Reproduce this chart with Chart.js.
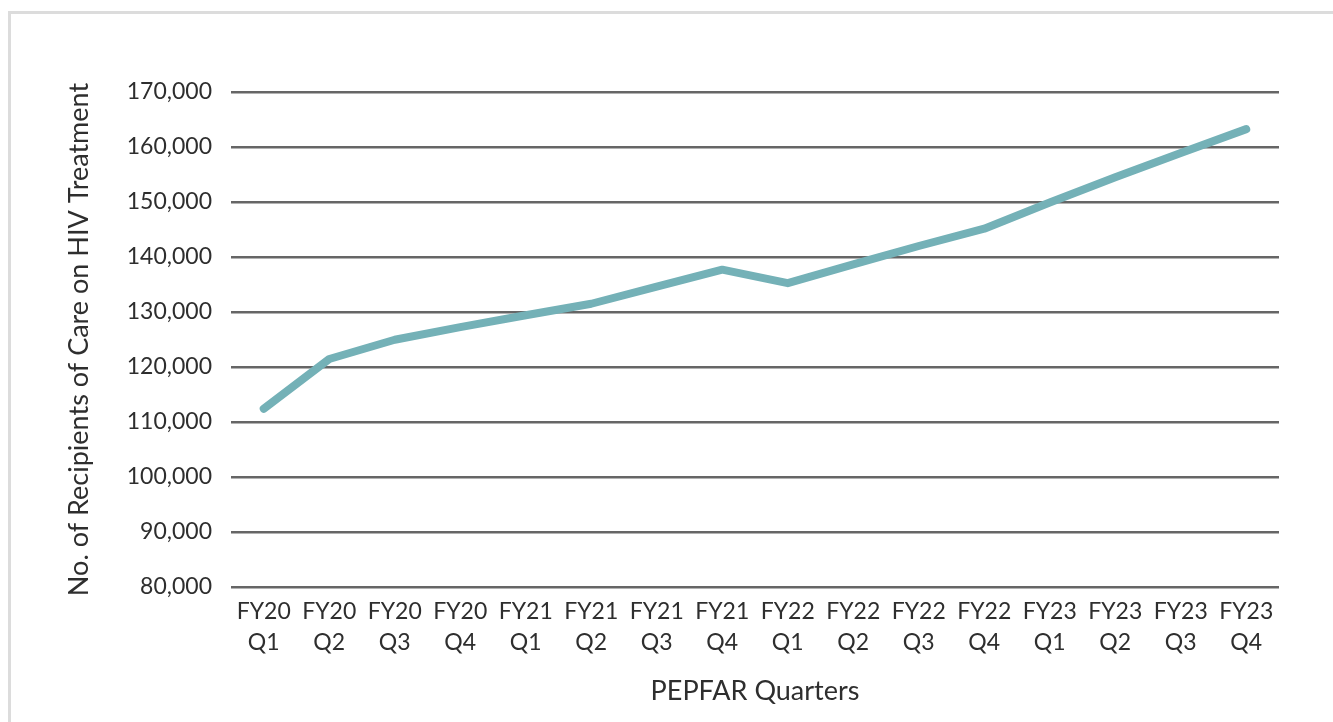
<!DOCTYPE html>
<html>
<head>
<meta charset="utf-8">
<script src="https://cdn.jsdelivr.net/npm/chart.js@4/dist/chart.umd.min.js"></script>
<style>
  html, body { margin: 0; padding: 0; background: #fff; overflow: hidden; }
  #frame {
    position: absolute; left: 8px; top: 11px; width: 1400px; height: 800px;
    border: 3px solid #dcdcdc; box-sizing: border-box;
  }
  #wrap { position: absolute; left: 0; top: 0; width: 1333px; height: 722px; }
</style>
</head>
<body>
<div id="frame"></div>
<div id="wrap"><canvas id="chart" width="1333" height="722"></canvas></div>
<script>
// quarters shown on the x axis (two-line labels)
var years = ['FY20', 'FY20', 'FY20', 'FY20', 'FY21', 'FY21', 'FY21', 'FY21',
             'FY22', 'FY22', 'FY22', 'FY22', 'FY23', 'FY23', 'FY23', 'FY23'];
var quarters = ['Q1', 'Q2', 'Q3', 'Q4', 'Q1', 'Q2', 'Q3', 'Q4',
                'Q1', 'Q2', 'Q3', 'Q4', 'Q1', 'Q2', 'Q3', 'Q4'];

// recipients of care on HIV treatment
var recipients = [112400, 121450, 124950, 127250, 129400, 131500, 134600, 137700,
                  135250, 138650, 142000, 145150, 149900, 154500, 158900, 163250];

var yTicks = [80000, 90000, 100000, 110000, 120000, 130000, 140000, 150000, 160000, 170000];

var labels = years.map(function(y, i) { return [y, quarters[i]]; });

var textColor = '#2e2e2e';
var tickFont = { family: 'Lato', size: 23, lineHeight: 1.35 };
var titleFont = { family: 'Lato', size: 27 };

var ctx = document.getElementById('chart').getContext('2d');
new Chart(ctx, {
    type: 'line',
    data: {
        labels: labels,
        datasets: [{
            data: recipients,
            borderColor: '#74b1b7',
            borderWidth: 8,
            borderCapStyle: 'round',
            borderJoinStyle: 'round',
            pointRadius: 0,
            tension: 0,
            fill: false
        }]
    },
    options: {
        responsive: false,
        animation: false,
        layout: { padding: { left: 60, right: 54, top: 92, bottom: 0 } },
        plugins: { legend: { display: false }, tooltip: { enabled: false } },
        scales: {
            x: {
                offset: true,
                grid: { display: false, drawTicks: false },
                border: { display: false },
                ticks: { color: textColor, font: tickFont, padding: 9, maxRotation: 0, autoSkip: false },
                title: {
                    display: true, text: 'PEPFAR Quarters', color: textColor,
                    font: titleFont, padding: { top: 0, bottom: 15 }
                },
                afterFit: function(scale) { scale.height = 135; }
            },
            y: {
                min: 80000, max: 170000,
                afterBuildTicks: function(scale) {
                    scale.ticks = yTicks.map(function(v) { return { value: v }; });
                },
                grid: { color: '#666666', lineWidth: 2.5, drawTicks: false },
                border: { display: false },
                ticks: {
                    color: textColor, font: tickFont, padding: 19,
                    callback: function(v) { return v.toLocaleString('en-US'); }
                },
                title: {
                    display: true, text: 'No. of Recipients of Care on HIV Treatment',
                    color: textColor, font: titleFont, padding: { top: 3, bottom: 4 }
                },
                afterFit: function(scale) { scale.width = 171; }
            }
        }
    }
});
</script>
</body>
</html>
